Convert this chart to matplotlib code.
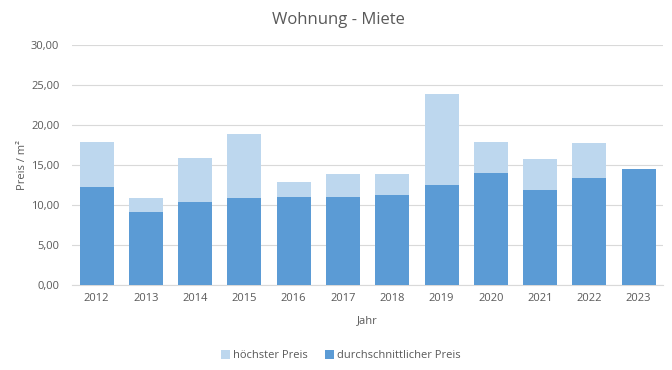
import matplotlib
matplotlib.use('Agg')
import matplotlib.pyplot as plt
import numpy as np

plt.rcParams['font.family'] = ['Open Sans', 'DejaVu Sans']

# Daten
jahre = ['2012', '2013', '2014', '2015', '2016', '2017', '2018', '2019', '2020', '2021', '2022', '2023']
hoechster_preis = [17.9, 10.9, 15.9, 18.9, 12.9, 13.9, 13.9, 23.9, 17.9, 15.8, 17.8, 14.5]
durchschnitt_preis = [12.25, 9.1, 10.4, 10.9, 11.0, 11.0, 11.25, 12.5, 14.0, 11.9, 13.4, 14.5]

hell = '#BDD7EE'
dunkel = '#5B9BD5'
textfarbe = '#595959'

fig = plt.figure(figsize=(6.72, 3.70), dpi=100)
ax = fig.add_axes([0.107, 0.2297, 0.880, 0.6487])

x = np.arange(len(jahre))
ax.bar(x, hoechster_preis, width=0.69, color=hell, label='höchster Preis', zorder=2)
ax.bar(x, durchschnitt_preis, width=0.69, color=dunkel, label='durchschnittlicher Preis', zorder=3)

ax.set_xlim(-0.5, len(jahre) - 0.5)
ax.set_ylim(0, 30)
ax.set_yticks(np.arange(0, 31, 5))
ax.set_yticklabels([f'{v:.2f}'.replace('.', ',') for v in np.arange(0, 31, 5)])
ax.set_xticks(x)
ax.set_xticklabels(jahre)

ax.grid(axis='y', color='#D9D9D9', linewidth=0.8, zorder=0)
for s in ['top', 'right', 'left']:
    ax.spines[s].set_visible(False)
ax.spines['bottom'].set_color('#D9D9D9')
ax.tick_params(length=0, colors=textfarbe, labelsize=8)
ax.tick_params(axis='x', pad=6)
ax.tick_params(axis='y', pad=9)

# Titel mittig über der ganzen Grafik
fig.text(0.503, 0.945, 'Wohnung - Miete', fontsize=12, color=textfarbe, ha='center', va='center')
ax.set_xlabel('Jahr', fontsize=8, color=textfarbe, labelpad=8)
ax.set_ylabel('Preis / m²', fontsize=8, color=textfarbe, labelpad=2)

ax.legend(loc='upper center', bbox_to_anchor=(0.455, -0.23), ncol=2, frameon=False,
          fontsize=8, labelcolor=textfarbe, handlelength=0.8, handleheight=0.8,
          handletextpad=0.3, columnspacing=1.5)

fig.savefig('out.png', dpi=100)
